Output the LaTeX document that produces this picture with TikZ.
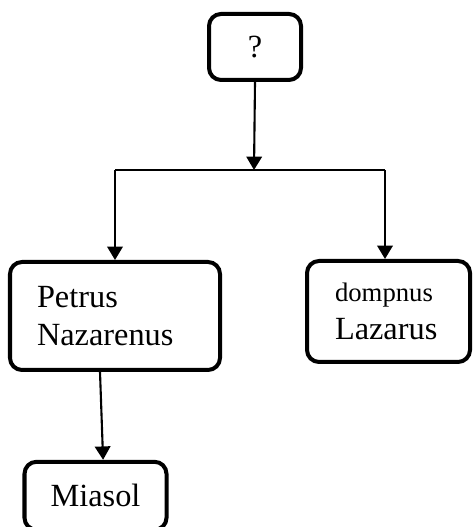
\documentclass[tikz,border=0pt]{standalone}
\usepackage{fontspec}
\setmainfont{Liberation Serif}
\usepackage{tikz}
\usetikzlibrary{arrows.meta, positioning, calc}

\begin{document}
\begin{tikzpicture}[
    namebox/.style={draw, line width=2.85pt, rounded corners=0.3cm,
        font=\fontsize{23}{27.5}\selectfont},
    link/.style={line width=1.5pt},
    arr/.style={link, -{Triangle[length=9.5pt, width=11pt]}}]
  \useasboundingbox (0,0) rectangle (11.825,13.175);

  % Boxes
  \node[namebox, minimum width=2.3cm, minimum height=1.65cm] (unknown) at (6.375, 12.0) {?};
  \node[namebox, minimum width=5.25cm, minimum height=2.7cm, text width=3.9cm,
        inner xsep=0.675cm, align=left] (petrus) at (2.875, 5.275)
        {Petrus\\Nazarenus};
  \node[namebox, minimum width=4.075cm, minimum height=2.525cm, text width=2.675cm,
        inner xsep=0.7cm, align=left] (lazarus) at (9.7125, 5.3875)
        {{\fontsize{19}{22}\selectfont dompnus}\\Lazarus};
  \node[namebox, minimum width=3.55cm, minimum height=1.7cm] (miasol) at (2.3875, 0.78) {Miasol};

  % Split line
  \coordinate (split)  at (6.35, 8.925);
  \coordinate (splitL) at (2.875, 8.925);
  \coordinate (splitR) at (9.625, 8.925);

  % Connections
  \draw[arr] (unknown.south) -- (split);
  \draw[link] (splitL) -- (splitR);
  \draw[arr] (splitL) -- (petrus.north);
  \draw[arr] (splitR) -- (splitR |- lazarus.north);
  \draw[arr] ([xshift=-0.375cm]petrus.south) -- ([xshift=0.19cm]miasol.north);
\end{tikzpicture}
\end{document}
